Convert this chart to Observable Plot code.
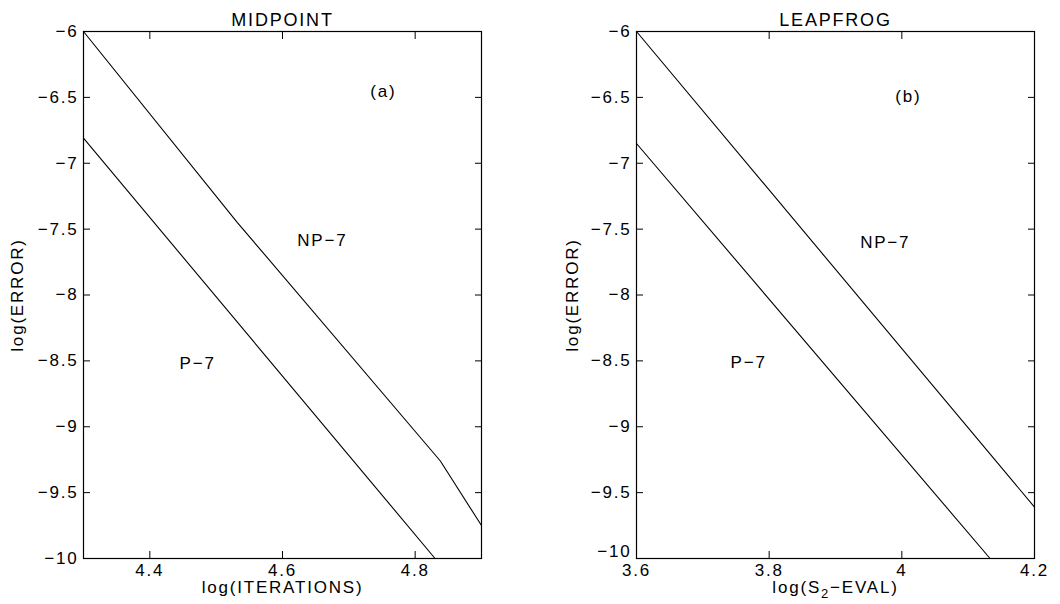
<!DOCTYPE html>
<html><head><meta charset="utf-8">
<script src="https://cdn.jsdelivr.net/npm/d3@7"></script>
<script src="https://cdn.jsdelivr.net/npm/@observablehq/plot@0.6"></script>
<style>
body{margin:0;background:#fff}
#c{display:flex;width:1060px;height:604px}
svg text{letter-spacing:1.8px}
</style>
</head><body><div id="c"></div>
<script>
// ---- data ----
const yTicks = [-9.5, -9, -8.5, -8, -7.5, -7, -6.5, -6];
const yBottomTick = [-10];
const midTicksX = [4.4, 4.6, 4.8];
const leapTicksX = [3.6, 3.8, 4, 4.2];

const midNPx = [4.3, 4.532, 4.838, 4.9];
const midNPy = [-6, -7.45, -9.26, -9.75];
const midPx = [4.3, 4.83];
const midPy = [-6.81, -10];

const leapNPx = [3.6, 4.2];
const leapNPy = [-6, -9.61];
const leapPx = [3.6, 4.133];
const leapPy = [-6.85, -10];

const midLabels = ["(a)", "NP\u22127", "P\u22127"];
const midLabelX = [4.752, 4.66, 4.472];
const midLabelY = [-6.455, -7.59, -8.52];
const leapLabels = ["(b)", "NP\u22127", "P\u22127"];
const leapLabelX = [4.01, 3.975, 3.769];
const leapLabelY = [-6.49, -7.6, -8.51];

const titles = ["MIDPOINT", "LEAPFROG"];
const xLabels = ["log(ITERATIONS)", "log(S\u2082\u2212EVAL)"];
const yLabel = "log(ERROR)";

const toPts = (xs, ys) => xs.map((x, i) => ({x, y: ys[i]}));
const toLab = (ts, xs, ys) => ts.map((t, i) => ({t, x: xs[i], y: ys[i]}));
const fmtY = d => String(d).replace("-", "\u2212");

function panel({xDomain, xTicks, lines, labels, title, xLabel, mLeft, mRight, yLabelDx, bottomDy}) {
  const allY = [...yBottomTick, ...yTicks];
  return Plot.plot({
    width: 530, height: 604,
    marginTop: 31, marginBottom: 46, marginLeft: mLeft, marginRight: mRight,
    style: {fontFamily: "'Liberation Sans', Arial, sans-serif", fontSize: "17px", color: "black", background: "white"},
    x: {domain: xDomain},
    y: {domain: [-10, -6]},
    marks: [
      Plot.axisX(xTicks, {anchor: "bottom", tickSize: 0, tickPadding: 5, label: null, fontSize: 17, tickFormat: d => String(d)}),
      Plot.axisX(xTicks, {anchor: "bottom", tickSize: -7, text: null, label: null}),
      Plot.axisX(xTicks, {anchor: "top", tickSize: -7, text: null, label: null}),
      Plot.axisY(yTicks, {anchor: "left", tickSize: 0, tickPadding: 5, label: null, fontSize: 17, tickFormat: fmtY}),
      Plot.axisY(yBottomTick, {anchor: "left", tickSize: 0, tickPadding: 5, label: null, fontSize: 17, tickFormat: fmtY, dy: bottomDy}),
      Plot.axisY(allY, {anchor: "left", tickSize: -7, text: null, label: null}),
      Plot.axisY(allY, {anchor: "right", tickSize: -7, text: null, label: null}),
      ...lines.map(pts => Plot.line(pts, {x: "x", y: "y", stroke: "black", strokeWidth: 1.1})),
      Plot.text(labels, {x: "x", y: "y", text: "t", fontSize: 17}),
      Plot.text([title], {frameAnchor: "top", textAnchor: "middle", dy: -18, fontSize: 18}),
      Plot.text([xLabel], {frameAnchor: "bottom", textAnchor: "middle", dy: 34, fontSize: 17}),
      Plot.text([yLabel], {frameAnchor: "left", textAnchor: "middle", rotate: -90, dx: yLabelDx, fontSize: 17}),
      Plot.frame({stroke: "black", strokeWidth: 1.2})
    ]
  });
}

const c = document.getElementById("c");
c.append(panel({
  xDomain: [4.3, 4.9], xTicks: midTicksX,
  lines: [toPts(midNPx, midNPy), toPts(midPx, midPy)],
  labels: toLab(midLabels, midLabelX, midLabelY),
  title: titles[0], xLabel: xLabels[0], mLeft: 83, mRight: 49, yLabelDx: -66, bottomDy: 0
}));
c.append(panel({
  xDomain: [3.6, 4.2], xTicks: leapTicksX,
  lines: [toPts(leapNPx, leapNPy), toPts(leapPx, leapPy)],
  labels: toLab(leapLabels, leapLabelX, leapLabelY),
  title: titles[1], xLabel: xLabels[1], mLeft: 106, mRight: 26, yLabelDx: -64, bottomDy: -7
}));

// render the subscript 2 of "S2" as a real lowered subscript
document.querySelectorAll("svg text").forEach(t => {
  if (t.textContent.includes("\u2082") && t.children.length === 0) {
    const [a, b] = t.textContent.split("\u2082");
    const ns = "http://www.w3.org/2000/svg";
    t.textContent = a;
    const sub = document.createElementNS(ns, "tspan");
    sub.setAttribute("dy", "5");
    sub.setAttribute("font-size", "13");
    sub.textContent = "2";
    const rest = document.createElementNS(ns, "tspan");
    rest.setAttribute("dy", "-5");
    rest.textContent = b;
    t.append(sub, rest);
  }
});
</script>
</body></html>
